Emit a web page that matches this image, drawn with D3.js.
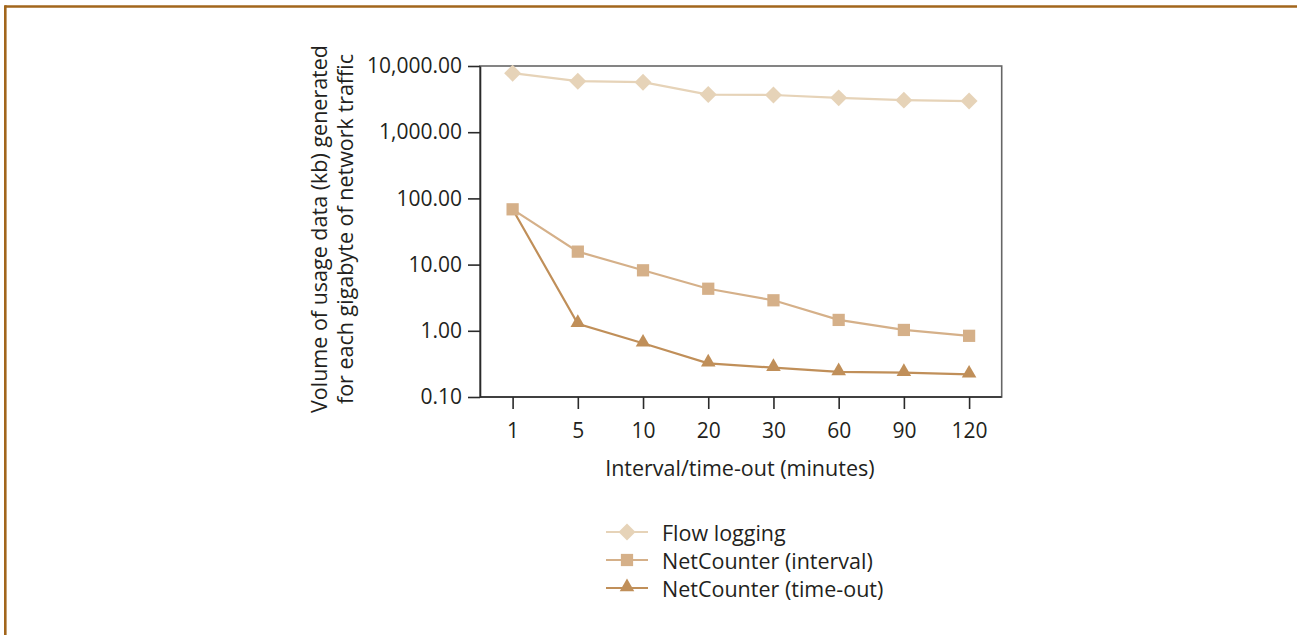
<!DOCTYPE html>
<html><head><meta charset="utf-8">
<script src="https://cdn.jsdelivr.net/npm/d3@7"></script>
<style>
html,body{margin:0;padding:0;background:#fff;}
svg{display:block;font-family:"Open Sans",sans-serif;}
</style></head>
<body><svg id="c" width="1297" height="635"></svg>
<script>
const categories = ["1","5","10","20","30","60","90","120"];
const flowLogging = [7800, 5900, 5700, 3700, 3650, 3300, 3050, 2950];
const netCounterInterval = [68.4, 15.7, 8.2, 4.32, 2.89, 1.46, 1.03, 0.84];
const netCounterTimeout = [68.4, 1.28, 0.647, 0.323, 0.277, 0.239, 0.233, 0.22];
const yTickValues = [0.1, 1, 10, 100, 1000, 10000];
const seriesNames = ["Flow logging", "NetCounter (interval)", "NetCounter (time-out)"];

const svg = d3.select("#c");
const tickFont = 21, titleFont = 21.5;

// page border (top + left brown rule)
svg.append("line").attr("x1",5).attr("x2",1297).attr("y1",6.5).attr("y2",6.5)
  .attr("stroke","#a2661c").attr("stroke-width",2.6);
svg.append("line").attr("x1",5.3).attr("x2",5.3).attr("y1",5.2).attr("y2",635)
  .attr("stroke","#a2661c").attr("stroke-width",2.6);

const L = 480, R = 1001.7, T = 66, B = 397;
const x = d3.scalePoint().domain(categories).range([L, R]).padding(0.5);
const y = d3.scaleLog().domain([0.1, 10000]).range([B, T]);

// frame
svg.append("rect").attr("x",L).attr("y",T).attr("width",R-L).attr("height",B-T)
  .attr("fill","none").attr("stroke","#666").attr("stroke-width",1.6);

const fmt = d3.format(",.2f");
const yAxis = svg.append("g").attr("transform",`translate(${L},0)`)
  .call(d3.axisLeft(y).tickValues(yTickValues).tickFormat(fmt).tickSize(12).tickPadding(6).tickSizeOuter(0));
const xAxis = svg.append("g").attr("transform",`translate(0,${B})`)
  .call(d3.axisBottom(x).tickSize(12).tickPadding(14).tickSizeOuter(0));
[yAxis, xAxis].forEach(g=>{
  g.selectAll(".domain").attr("stroke","#2a2a2a").attr("stroke-width",1.6);
  g.selectAll(".tick line").attr("stroke","#2a2a2a").attr("stroke-width",1.6);
  g.selectAll("text").attr("font-size",tickFont).attr("fill","#231f20")
    .attr("font-family","'Open Sans',sans-serif");
});
xAxis.selectAll(".domain").attr("d",`M${L},0H${R}`);

// axis titles
svg.append("text").attr("x",(L+R)/2 - 1).attr("y",467).attr("text-anchor","middle")
  .attr("dominant-baseline","central").attr("font-size",titleFont).attr("fill","#231f20")
  .text("Interval/time-out (minutes)");
const yt = svg.append("g").attr("transform",`translate(331,229) rotate(-90)`);
yt.append("text").attr("x",0).attr("y",-13).attr("text-anchor","middle").attr("dominant-baseline","central")
  .attr("font-size",titleFont).attr("fill","#231f20").text("Volume of usage data (kb) generated");
yt.append("text").attr("x",0).attr("y",13).attr("text-anchor","middle").attr("dominant-baseline","central")
  .attr("font-size",titleFont).attr("fill","#231f20").text("for each gigabyte of network traffic");

const colors = ["#e6d3b8", "#d5b089", "#c08f59"];
const sizes = [144, 150, 92];
const seriesData = [flowLogging, netCounterInterval, netCounterTimeout];

function symPath(s){
  const type = s===2 ? d3.symbolTriangle : d3.symbolSquare;
  return d3.symbol().type(type).size(sizes[s])();
}
function symTransform(s, cx, cy){
  if (s===0) return `translate(${cx},${cy}) rotate(45)`;
  if (s===2) return `translate(${cx},${cy-1})`;
  return `translate(${cx},${cy})`;
}

const line = d3.line().x((d,i)=>x(categories[i])).y(d=>y(d));
[2,1,0].forEach(s=>{
  svg.append("path").datum(seriesData[s]).attr("d",line).attr("fill","none")
    .attr("stroke",colors[s]).attr("stroke-width",2.2);
});
// markers; the time-out marker at the shared first point is hidden under the interval square
[2,1,0].forEach(s=>{
  const pts = seriesData[s].map((d,i)=>({d,i}))
    .filter(p => !(s===2 && p.d===netCounterInterval[p.i]));
  svg.append("g").selectAll("path").data(pts).join("path")
    .attr("d",symPath(s))
    .attr("transform",p=>symTransform(s, x(categories[p.i]), y(p.d)))
    .attr("fill",colors[s]);
});

// legend
const lg = svg.append("g");
const legY = [532, 560, 588];
seriesNames.forEach((n,s)=>{
  lg.append("line").attr("x1",606).attr("x2",648).attr("y1",legY[s]).attr("y2",legY[s])
    .attr("stroke",colors[s]).attr("stroke-width",2.2);
  lg.append("path").attr("d",symPath(s))
    .attr("transform",symTransform(s,627,legY[s]))
    .attr("fill",colors[s]);
  lg.append("text").attr("x",662).attr("y",legY[s]).attr("dominant-baseline","central")
    .attr("font-size",titleFont).attr("fill","#231f20").text(n);
});
</script></body></html>
